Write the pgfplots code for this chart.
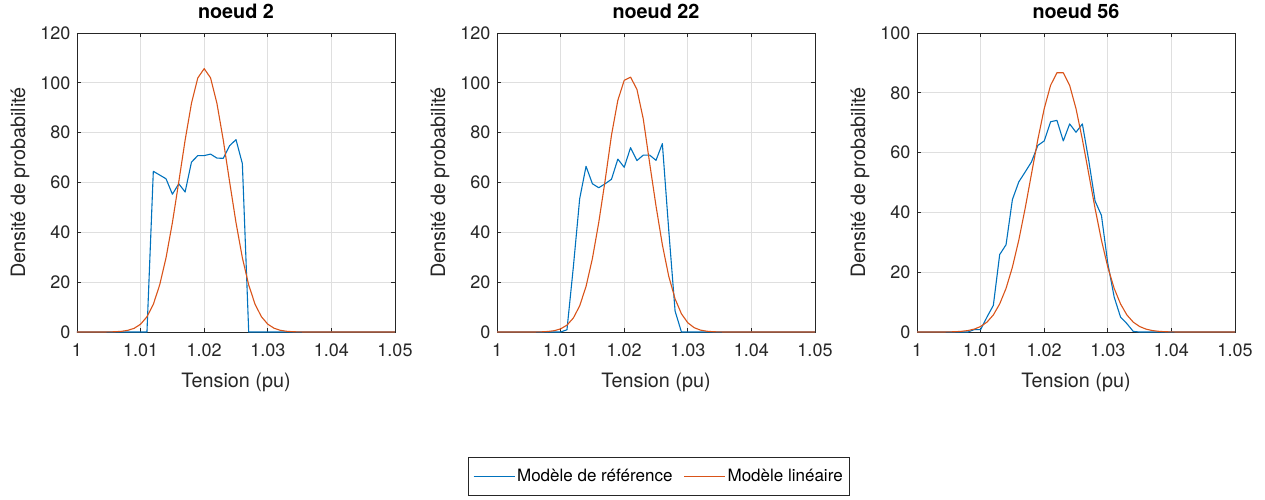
\documentclass[border=0pt]{standalone}
\usepackage{pgfplots}
\pgfplotsset{compat=1.18}
\usepackage{fontspec}
\setmainfont{TeX Gyre Heros}
\definecolor{mblue}{HTML}{0072BD}
\definecolor{morange}{HTML}{D95319}
\definecolor{maxis}{HTML}{262626}
\definecolor{mgrid}{HTML}{DFDFDF}

\pgfplotstableread{
x y
1.000 0
1.011 0
1.012 64.5
1.013 63.0
1.014 61.5
1.015 55.3
1.016 59.5
1.017 56.2
1.018 68.2
1.019 70.8
1.020 70.8
1.021 71.4
1.022 69.8
1.023 69.7
1.024 74.8
1.025 77.2
1.026 67.6
1.027 0
1.050 0
}\refA
\pgfplotstableread{
x y
1.000 0
1.004 0
1.005 0.04
1.006 0.11
1.007 0.28
1.008 0.67
1.009 1.50
1.010 3.14
1.011 6.12
1.012 11.1
1.013 18.9
1.014 29.8
1.015 43.9
1.016 60.2
1.017 77.0
1.018 91.8
1.019 102.0
1.020 105.7
1.021 102.0
1.022 91.8
1.023 77.0
1.024 60.2
1.025 43.9
1.026 29.8
1.027 18.9
1.028 11.1
1.029 6.12
1.030 3.14
1.031 1.50
1.032 0.67
1.033 0.28
1.034 0.11
1.035 0.04
1.036 0
1.050 0
}\linA
\pgfplotstableread{
x y
1.000 0
1.010 0
1.011 0.9
1.012 26.0
1.013 53.5
1.014 66.5
1.015 59.5
1.016 57.9
1.017 59.5
1.018 61.3
1.019 69.4
1.020 66.1
1.021 74.0
1.022 68.8
1.023 71.0
1.024 71.0
1.025 68.9
1.026 75.6
1.027 41.0
1.028 8.4
1.029 0
1.050 0
}\refB
\pgfplotstableread{
x y
1.000 0
1.005 0
1.006 0.02
1.007 0.07
1.008 0.21
1.009 0.53
1.010 1.26
1.011 2.76
1.012 5.6
1.013 10.5
1.014 18.3
1.015 29.5
1.016 44.0
1.017 60.8
1.018 79.0
1.019 93.0
1.020 101.0
1.021 102.3
1.022 97.4
1.023 85.5
1.024 67.8
1.025 50.6
1.026 35.0
1.027 22.4
1.028 13.3
1.029 7.3
1.030 3.7
1.031 1.74
1.032 0.76
1.033 0.31
1.034 0.11
1.035 0.04
1.036 0
1.050 0
}\linB
\pgfplotstableread{
x y
1.000 0
1.008 0
1.009 0.8
1.010 0.8
1.011 5.0
1.012 8.9
1.013 25.9
1.014 29.2
1.015 44.3
1.016 50.2
1.017 53.5
1.018 56.9
1.019 62.4
1.020 63.9
1.021 70.3
1.022 70.8
1.023 63.9
1.024 69.6
1.025 66.8
1.026 69.6
1.027 57.4
1.028 43.8
1.029 39.0
1.030 22.9
1.031 11.7
1.032 5.0
1.033 2.8
1.034 0.2
1.035 0
1.050 0
}\refC
\pgfplotstableread{
x y
1.000 0
1.004 0
1.005 0.04
1.006 0.10
1.007 0.23
1.008 0.49
1.009 0.97
1.010 1.84
1.011 3.3
1.012 5.7
1.013 9.4
1.014 14.6
1.015 21.7
1.016 30.7
1.017 41.3
1.018 52.9
1.019 64.4
1.020 74.7
1.021 82.5
1.022 86.7
1.023 86.7
1.024 82.5
1.025 74.7
1.026 64.4
1.027 52.9
1.028 41.3
1.029 30.7
1.030 21.7
1.031 14.6
1.032 9.4
1.033 5.7
1.034 3.3
1.035 1.84
1.036 0.97
1.037 0.49
1.038 0.23
1.039 0.10
1.040 0.04
1.041 0
1.050 0
}\linC

\pgfplotsset{
  mstyle/.style={
    scale only axis, width=318pt, height=299pt,
    xmin=1, xmax=1.05,
    xtick={1,1.01,1.02,1.03,1.04,1.05},
    xticklabels={1,1.01,1.02,1.03,1.04,1.05},
    ymin=0,
    grid=major,
    major grid style={mgrid, line width=0.8pt},
    axis line style={maxis, line width=0.9pt},
    tick style={maxis, line width=0.9pt},
    tick align=inside, tick pos=both, major tick length=4pt,
    /pgf/number format/assume math mode=true,
    ticklabel style={font=\fontsize{18}{21}\selectfont, text=maxis},
    xticklabel style={yshift=-8pt},
    yticklabel style={xshift=-3pt},
    label style={font=\fontsize{19.8}{23}\selectfont, text=maxis},
    xlabel={Tension (pu)},
    ylabel={Densité de probabilité},
    xlabel style={at={(axis description cs:0.5,-0.167)}, anchor=center},
    ylabel style={at={(axis description cs:-0.179,0.5)}, anchor=center},
    title style={font=\bfseries\fontsize{19.8}{23}\selectfont, at={(axis description cs:0.5,1)}, anchor=base, yshift=8.5pt},
    every axis plot/.append style={line width=1.1pt, line join=round},
  }
}

\begin{document}
\begin{tikzpicture}
\useasboundingbox (0pt,0pt) rectangle (1265pt,-499pt);
\begin{axis}[mstyle, at={(77pt,-332pt)}, anchor=south west, ymax=120, ytick={0,20,...,120}, title={noeud 2}]
\addplot[mblue] table {\refA};
\addplot[morange] table {\linA};
\end{axis}
\begin{axis}[mstyle, at={(497pt,-332pt)}, anchor=south west, ymax=120, ytick={0,20,...,120}, title={noeud 22},
  legend columns=2,
  legend style={at={(axis description cs:0.509,-0.483)}, anchor=center,
    draw=maxis, line width=0.8pt, font=\fontsize{17}{20}\selectfont, text=black,
    inner xsep=5pt, inner ysep=10pt,
    /tikz/every even column/.append style={column sep=9pt}},
  legend image code/.code={\draw[#1, line width=1.1pt] (0pt,0pt) -- (41pt,0pt);}]
\addplot[mblue] table {\refB};
\addplot[morange] table {\linB};
\legend{Modèle de référence, Modèle linéaire}
\end{axis}
\begin{axis}[mstyle, at={(917pt,-332pt)}, anchor=south west, ymax=100, ytick={0,20,...,100}, title={noeud 56}]
\addplot[mblue] table {\refC};
\addplot[morange] table {\linC};
\end{axis}
\end{tikzpicture}
\end{document}
